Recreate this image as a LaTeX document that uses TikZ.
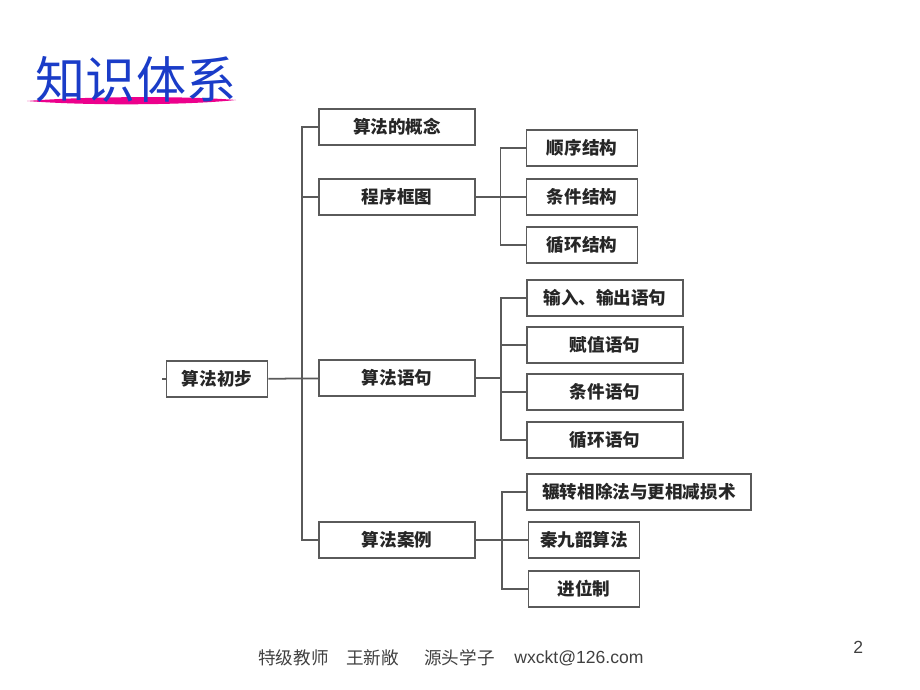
\documentclass[tikz,border=0pt]{standalone}
\usepackage{fontspec}
\setmainfont{Liberation Sans}
\newfontfamily\cjk{Noto Sans CJK SC}
\definecolor{boxgray}{HTML}{5A5A5A}
\definecolor{titleblue}{HTML}{1A3CC8}
\begin{document}
\begin{tikzpicture}[x=0.02cm, y=-0.02cm,
	box/.style={draw=boxgray, line width=1.1pt, minimum height=0.72cm, inner sep=0pt, text=black!85, font=\cjk\fontsize{10}{12}\selectfont\bfseries},
	first/.style={box, minimum width=3.12cm},
	second/.style={box, minimum width=2.22cm},
	link/.style={draw=boxgray, line width=1pt},
	foot/.style={anchor=west, inner sep=0pt, text=black!75, font=\fontsize{10}{12}\selectfont}]
	\useasboundingbox (0,0) rectangle (920,690);

	% title
	\fill[magenta] (27,101) .. controls (90,96) and (190,96) .. (236,100) .. controls (190,105) and (90,106) .. (27,101);
	\node[text=titleblue, font=\cjk\fontsize{28.5}{31}\selectfont, inner sep=0pt] (title) at (136,79) {知识体系};

	% tree
	\node[box, minimum width=2.02cm] (root) at (217,379) {算法初步};

	\node[first] (gainian) at (397,127) {算法的概念};
	\node[first] (kuangtu) at (397,197) {程序框图};
	\node[first] (yuju) at (397,378) {算法语句};
	\node[first] (anli) at (397,540) {算法案例};

	\node[second] (shunxu) at (582,148) {顺序结构};
	\node[second] (tiaojian) at (582,197) {条件结构};
	\node[second] (xunhuan) at (582,245) {循环结构};

	\node[box, minimum width=3.12cm] (shuru) at (605,298) {输入、输出语句};
	\node[box, minimum width=3.12cm] (fuzhi) at (605,345) {赋值语句};
	\node[box, minimum width=3.12cm] (tjyuju) at (605,392) {条件语句};
	\node[box, minimum width=3.12cm] (xhyuju) at (605,440) {循环语句};

	\node[box, minimum width=4.48cm] (zhuanxiang) at (639,492) {辗转相除法与更相减损术};
	\node[second] (qin) at (584,540) {秦九韶算法};
	\node[second] (jinwei) at (584,589) {进位制};

	\draw[link] (root.west) -- ++(-4,0);
	\draw[link] (root) -- (yuju);
	\draw[link] (gainian.west) -- ++(-16,0) coordinate (t1) |- (anli.west);
	\draw[link] (kuangtu.west) -- (kuangtu.west -| t1);

	\draw[link] (shunxu.west) -- ++(-25,0) coordinate (t2) |- (xunhuan.west);
	\draw[link] (kuangtu) -- (tiaojian);

	\draw[link] (shuru.west) -- ++(-25,0) coordinate (t3) |- (xhyuju.west);
	\draw[link] (fuzhi.west) -- (fuzhi.west -| t3);
	\draw[link] (tjyuju.west) -- (tjyuju.west -| t3);
	\draw[link] (yuju.east) -- (yuju.east -| t3);

	\draw[link] (zhuanxiang.west) -- ++(-24,0) coordinate (t4) |- (jinwei.west);
	\draw[link] (anli) -- (qin);

	% footer
	\node[foot] (teacher) at (258,658) {\cjk 特级教师};
	\node[foot] (name) at (346,658) {\cjk 王新敞};
	\node[foot] (school) at (424,658) {\cjk 源头学子};
	\node[foot] (mail) at (514,658) {wxckt@126.com};
	\node[foot] (page) at (853,647) {2};
\end{tikzpicture}
\end{document}
